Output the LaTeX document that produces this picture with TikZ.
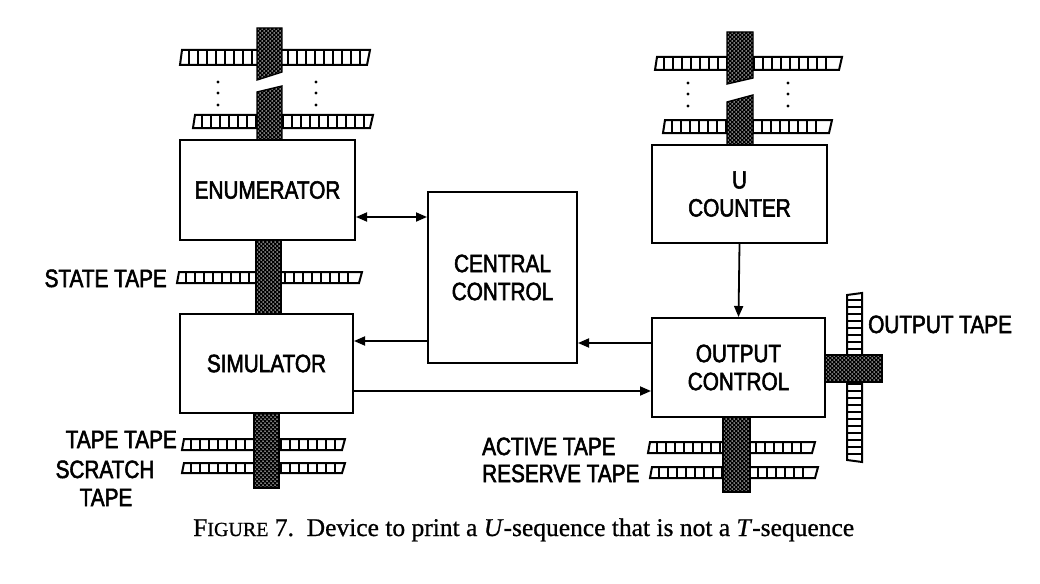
\documentclass[tikz,border=0pt]{standalone}
\usepackage{fontspec}
\setmainfont{Liberation Serif}
\newfontfamily\lblfont[FakeStretch=0.83,FakeBold=2.2]{Liberation Sans}
\newfontfamily\capfont[FakeBold=0.8]{Liberation Serif}
\usetikzlibrary{arrows.meta}

\tikzset{
  box/.style={draw, line width=2pt, fill=white, font=\lblfont\fontsize{25}{28}\selectfont, align=center, inner sep=0pt},
  lbl/.style={font=\lblfont\fontsize{25}{28}\selectfont, inner sep=0pt},
  conn/.style={line width=1.8pt},
  arr/.style={-{Triangle[length=11pt,width=9pt]}},
  arrboth/.style={{Triangle[length=11pt,width=9pt]}-{Triangle[length=11pt,width=9pt]}},
  tapeline/.style={line width=2pt},
  rung/.style={line width=1.6pt},
  tapedot/.style={fill=black},
}

% horizontal tape: x1 x2 y1 y2
\newcommand\htape[4]{%
  \fill[white] (#1,#3) rectangle (#2,#4);
  \draw[tapeline] (#1+2,#3) -- (#2,#3) -- (#2-3,#4) -- (#1,#4) -- cycle;
  \pgfmathtruncatemacro\nrung{(#2-#1-8)/9}
  \foreach \j in {1,...,\nrung} \draw[rung] (#1+\j*9,#3) -- (#1+\j*9,#4);
}
% vertical tape: x1 x2 y1 y2
\newcommand\vtape[4]{%
  \fill[white] (#1,#3) rectangle (#2,#4);
  \draw[tapeline] (#1,#3+2) -- (#2,#3) -- (#2,#4) -- (#1,#4-2) -- cycle;
  \pgfmathtruncatemacro\nrung{(#4-#3-4)/7}
  \foreach \j in {1,...,\nrung} \draw[rung] (#1,#3+\j*7) -- (#2,#3+\j*7);
}
% read/write head: x1 x2 ytopleft ytopright ybotleft ybotright
\newcommand\chead[6]{%
  \begin{scope}
    \clip (#1,#3) -- (#2,#4) -- (#2,#6) -- (#1,#5) -- cycle;
    \fill[black] (#1,#3) -- (#2,#4) -- (#2,#6) -- (#1,#5) -- cycle;
    \pgfmathsetmacro\ytop{min(#3,#4)}
    \pgfmathtruncatemacro\ni{(max(#5,#6)-\ytop)/4}
    \pgfmathtruncatemacro\nj{(#2-#1)/4}
    \foreach \i in {0,...,\ni}{
      \foreach \j in {0,...,\nj}{
        \fill[white] (#1+\j*4+1,\ytop+\i*4+1) circle (0.75);
        \fill[white] (#1+\j*4+3,\ytop+\i*4+3) circle (0.75);
      }
    }
  \end{scope}
  \draw[line width=1.4pt] (#1,#3) -- (#2,#4) -- (#2,#6) -- (#1,#5) -- cycle;
}

\begin{document}
\begin{tikzpicture}[x=1pt,y=-1pt]
\useasboundingbox[fill=white] (0,0) rectangle (1040,583);

% ---- tapes ----
\htape{180}{370}{50}{65}
\htape{193}{373}{115}{128}
\htape{655}{842}{57}{70}
\htape{663}{832}{120}{133}
\htape{177}{362}{272}{283}
\htape{182}{345}{439}{450}
\htape{182}{345}{463}{473}
\htape{648}{815}{442}{453}
\htape{650}{818}{467}{478}
\vtape{847}{862}{293}{462}

% ---- continuation dots ----
\foreach \xx in {218,316} \foreach \yy in {82,93,105} \fill[tapedot] (\xx,\yy) circle (1.7);
\foreach \xx in {688,788} \foreach \yy in {83,94,106} \fill[tapedot] (\xx,\yy) circle (1.7);

% ---- heads ----
\chead{257}{282}{28}{28}{80}{72}
\chead{257}{282}{92}{86}{141}{141}
\chead{256}{281}{239}{239}{315}{315}
\chead{254}{279}{412}{412}{488}{488}
\chead{727}{753}{32}{32}{84}{78}
\chead{727}{753}{102}{95}{146}{146}
\chead{723}{750}{416}{416}{492}{492}
\chead{825}{882}{355}{355}{382}{382}

% ---- boxes ----
\node[box, minimum width=175pt, minimum height=100pt] (enum) at (267.5,190) {ENUMERATOR};
\node[box, minimum width=173pt, minimum height=99pt] (sim) at (266.5,363.5) {SIMULATOR};
\node[box, minimum width=149pt, minimum height=171pt] (cc) at (502.5,277.5) {CENTRAL\\CONTROL};
\node[box, minimum width=175pt, minimum height=98pt] (uc) at (739.5,194) {U\\COUNTER};
\node[box, minimum width=173pt, minimum height=99pt] (oc) at (738.5,367.5) {OUTPUT\\CONTROL};

% ---- connectors ----
\coordinate (ya) at (0,217);
\coordinate (yb) at (0,341);
\coordinate (yc) at (0,343);
\coordinate (yd) at (0,391);
\draw[conn, arrboth] (enum.east |- ya) -- (cc.west |- ya);
\draw[conn, arr] (cc.west |- yb) -- (sim.east |- yb);
\draw[conn, arr] (oc.west |- yc) -- (cc.east |- yc);
\draw[conn, arr] (sim.east |- yd) -- (oc.west |- yd);
\draw[conn, arr] (uc.south) -- (oc.north);

% ---- tape labels ----
\node[lbl, anchor=base east] (lstate) at (167,287) {STATE TAPE};
\node[lbl, anchor=base east] (ltape) at (177,448) {TAPE TAPE};
\node[lbl, anchor=base] (lscr) at (105,478) {SCRATCH};
\node[lbl, anchor=base] (lscr2) at (106,506) {TAPE};
\node[lbl, anchor=base west] (lact) at (482,455) {ACTIVE TAPE};
\node[lbl, anchor=base west] (lres) at (482,482) {RESERVE TAPE};
\node[lbl, anchor=base west] (lout) at (868,333) {OUTPUT TAPE};

% ---- caption ----
\node[anchor=base west, inner sep=0pt, font=\capfont\fontsize{25.5}{30}\selectfont] (cap) at (193,536)
  {F{\fontsize{20}{22}\selectfont IGURE} 7.\ \ Device to print a \textit{U}-sequence that is not a \textit{T}-sequence};
\end{tikzpicture}
\end{document}
